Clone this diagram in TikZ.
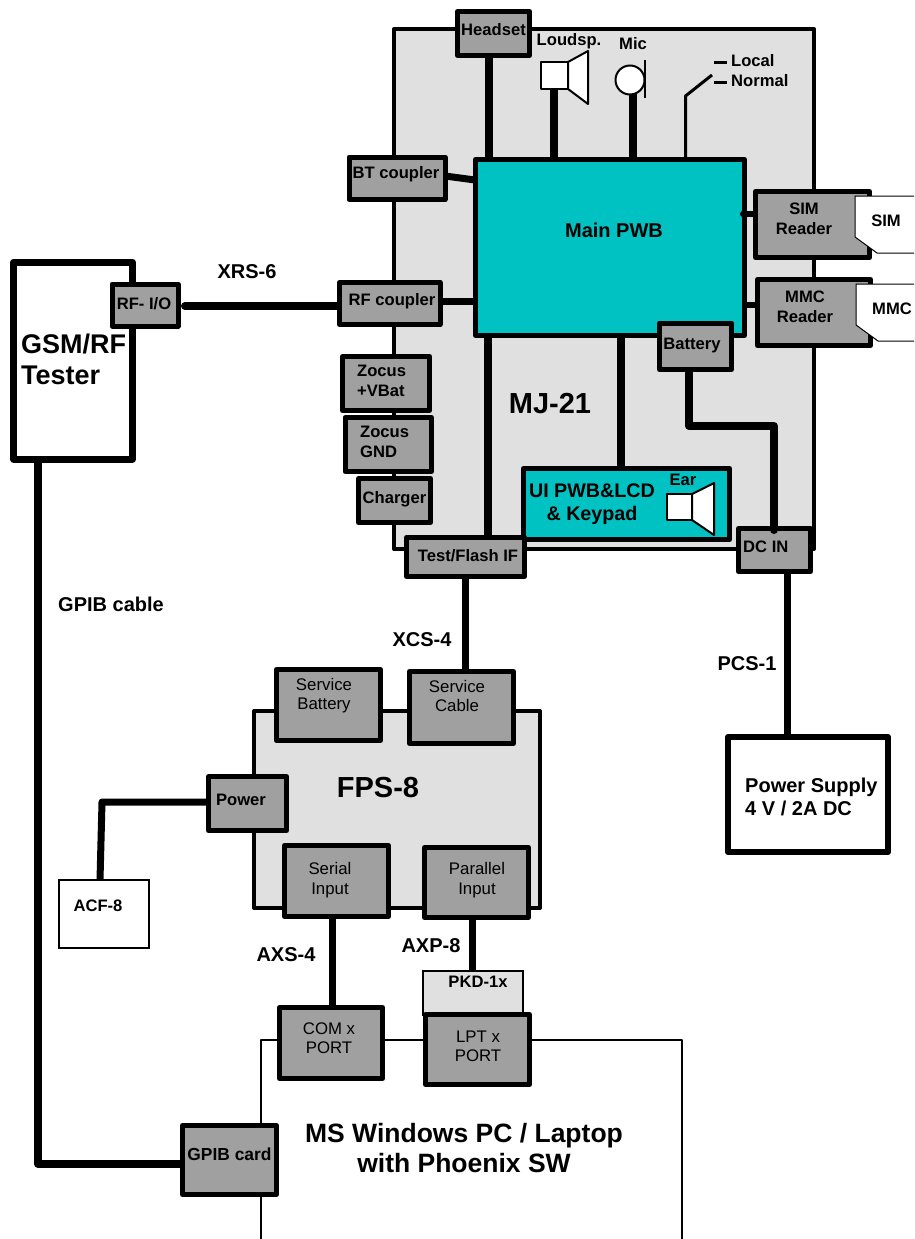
\documentclass[tikz,border=0pt]{standalone}
\usepackage{fontspec}
\setmainfont{Liberation Sans}
\definecolor{panelgray}{HTML}{E0E0E0}
\definecolor{boxgray}{HTML}{A0A0A0}
\definecolor{teal2}{HTML}{00C2C2}
\tikzset{
  bx/.style={draw=black,line width=5pt,line join=round,inner sep=0pt,fill=boxgray},
  lbl/.style={inner sep=0pt,font=\bfseries\fontsize{16.6}{20}\selectfont,align=center},
  big/.style={inner sep=0pt,font=\bfseries\fontsize{20}{20}\selectfont,align=center},
  reg/.style={inner sep=0pt,font=\fontsize{16.8}{19.5}\selectfont,align=center},
  conn/.style={line width=7pt,line join=round},
  spk/.style={draw=black,line width=2pt,fill=white,line join=round}
}
\newcommand{\Bx}[6]{\node[bx,minimum width=#3-#2,minimum height=#5-#4] (#1) at ({(#2+#3)/2},{(#4+#5)/2}) {#6};}
\begin{document}
\begin{tikzpicture}[x=1pt,y=-1pt]
\useasboundingbox (0,0) rectangle (914,1239);
% panels
\node[draw=black,line width=4pt,line join=round,fill=panelgray,minimum width=420,minimum height=520,inner sep=0pt] (mj) at (604,289) {};
\node[draw=black,line width=4pt,line join=round,fill=panelgray,minimum width=286,minimum height=197,inner sep=0pt] (fps) at (397,809.5) {};
% PC
\coordinate (pcbl) at (261,1239); \coordinate (pcbr) at (682,1239);
\coordinate (pctl) at (261,1040); \coordinate (pctr) at (682,1040);
\draw[line width=2.5pt,line join=round] (pcbl) -- (pctl) -- (pctr) -- (pcbr);
% main boards
\node[draw=black,line width=5pt,line join=round,fill=teal2,minimum width=269,minimum height=176,inner sep=0pt] (main) at (610,247.5) {};
\node[big] (maintxt) at (614,230) {Main PWB};
\node[draw=black,line width=5pt,line join=round,fill=teal2,minimum width=206,minimum height=71,inner sep=0pt] (ui) at (626.5,504) {};
\node[big,font=\bfseries\fontsize{19.7}{23}\selectfont] (uitxt) at (592,504) {UI PWB\&LCD\\\& Keypad};
% small boxes
\Bx{headset}{457.5}{529.5}{11.5}{55.5}{}
\Bx{bt}{349}{445}{157}{199.5}{}
\Bx{rfc}{339.5}{440}{282.5}{324.5}{}
\Bx{zv}{342.5}{429.5}{356.5}{410.5}{}
\Bx{zg}{345}{431.5}{417.5}{471.5}{}
\Bx{chg}{358.5}{430.5}{478.5}{522.5}{}
\Bx{test}{406.5}{524.5}{537.5}{576.5}{}
\Bx{dc}{738.5}{810.5}{528.5}{571.5}{}
\Bx{bat}{659.5}{731.5}{323}{369.5}{}
\Bx{simr}{755.5}{869.5}{191.5}{257.5}{}
\Bx{mmcr}{757.5}{870.5}{279.5}{345.5}{}
\node[lbl] (hst) at (493.5,30) {Headset};
\node[lbl] (btt) at (396,174) {BT coupler};
\node[lbl] (rft) at (392,301) {RF coupler};
\node[lbl,anchor=west] (zvt1) at (357,371) {Zocus};
\node[lbl,anchor=west] (zvt2) at (357,391) {+VBat};
\node[lbl,anchor=west] (zgt1) at (360,432) {Zocus};
\node[lbl,anchor=west] (zgt2) at (360,452) {GND};
\node[lbl] (chgt) at (394.5,499) {Charger};
\node[lbl] (testt) at (468,556) {Test/Flash IF};
\node[lbl,anchor=west] (dct) at (743,547) {DC IN};
\node[lbl] (batt) at (692,346) {Battery};
\node[lbl] (simt) at (804,218.5) {SIM\\Reader};
\node[lbl] (mmct) at (805,306.5) {MMC\\Reader};
% cards
\draw[line width=1pt,fill=white] (914,196) -- (855,196) -- (855,237) -- (877,253) -- (914,253);
\draw[line width=1pt,fill=white] (914,284) -- (856,284) -- (856,325) -- (878,341) -- (914,341);
\node[lbl] (simc) at (886,221) {SIM};
\node[lbl] (mmcc) at (892,309) {MMC};
% speakers etc
\draw[spk] (541,62) rectangle (568,89);
\draw[spk] (568,62) -- (588,51) -- (588,104) -- (568,89) -- cycle;
\draw[line width=2pt,fill=white] (630,80) circle (14.5);
\draw[line width=1.5pt] (645,60) -- (645,98);
\node[lbl] (lsp) at (569,41) {Loudsp.};
\node[lbl] (mic) at (633,44) {Mic};
\coordinate (sw0) at (685.5,160); \coordinate (sw1) at (685.5,96); \coordinate (sw2) at (712,75);
\draw[line width=3pt,line join=round] (sw0) -- (sw1) -- (sw2);
\draw[line width=3pt] (714,63) -- (727,63);
\draw[line width=3pt] (714,82) -- (727,82);
\node[lbl,anchor=west] (loc) at (731,61) {Local};
\node[lbl,anchor=west] (nor) at (731,81) {Normal};
\draw[spk] (667,494) rectangle (692,520);
\draw[spk] (692,494) -- (714,483) -- (714,535) -- (692,520) -- cycle;
\node[lbl] (ear) at (683,480) {Ear};
\node[big,font=\bfseries\fontsize{29}{30}\selectfont] (mjt) at (550,404) {MJ-21};
% connectors
\coordinate (hsa) at (489,55); \coordinate (hsb) at (489,160);
\draw[conn,line width=8pt] (hsa) -- (hsb);
\coordinate (lsa) at (554,89); \coordinate (lsb) at (554,160);
\draw[conn,line width=8pt] (lsa) -- (lsb);
\coordinate (mca) at (633,94); \coordinate (mcb) at (633,160);
\draw[conn,line width=8pt] (mca) -- (mcb);
\coordinate (bta) at (445,176); \coordinate (btb) at (475,180);
\draw[conn] (bta) -- (btb);
\coordinate (rfa) at (440,301); \coordinate (rfb) at (475,301);
\draw[conn] (rfa) -- (rfb);
\coordinate (tsa) at (488,336); \coordinate (tsb) at (488,537);
\draw[conn,line width=8pt] (tsa) -- (tsb);
\coordinate (uia) at (621,336); \coordinate (uib) at (621,468);
\draw[conn,line width=8pt] (uia) -- (uib);
\coordinate (sia) at (743,214); \coordinate (sib) at (755,214);
\draw[conn,line width=6pt,line cap=round] (sia) -- (sib);
\coordinate (mma) at (745,305); \coordinate (mmb) at (757,305);
\draw[conn,line width=6pt] (mma) -- (mmb);
\coordinate (ba1) at (689,373); \coordinate (ba2) at (689,426); \coordinate (ba3) at (774,426); \coordinate (ba4) at (774,530);
\draw[conn,line width=8pt,line cap=round] (ba1) -- (ba2) -- (ba3) -- (ba4);
% Tester
\node[draw=black,line width=7pt,line join=round,fill=white,minimum width=119,minimum height=197,inner sep=0pt] (gsm) at (73,360.5) {};
\node[big,anchor=west,align=left,font=\bfseries\fontsize{27}{31}\selectfont] (gsmt) at (21,359.5) {GSM/RF\\Tester};
\Bx{rfio}{112}{178}{284}{326}{}
\node[lbl] (rfiot) at (144,304) {RF- I/O};
\coordinate (xra) at (185,306); \coordinate (xrb) at (337,306);
\draw[conn,line width=8pt,line cap=round] (xra) -- (xrb);
\node[big] (xrs) at (247,272) {XRS-6};
% lower
\Bx{svb}{276.5}{380.5}{669.5}{740.5}{}
\Bx{svc}{409.5}{513.5}{671.5}{743.5}{}
\node[reg] (svbt) at (324,695.5) {Service\\Battery};
\node[reg] (svct) at (457,696) {Service\\Cable};
\Bx{pow}{208.5}{286.5}{776.5}{830.5}{}
\node[lbl] (powt) at (241,800) {Power};
\Bx{ser}{284.5}{388.5}{845.5}{916.5}{}
\Bx{par}{424.5}{528.5}{847.5}{917.5}{}
\node[reg] (sert) at (330,880) {Serial\\Input};
\node[reg] (part) at (477,880) {Parallel\\Input};
\node[big,font=\bfseries\fontsize{29}{30}\selectfont] (fpst) at (378,788) {FPS-8};
\node[draw=black,line width=2pt,fill=white,minimum width=90,minimum height=68,inner sep=0pt] (acf) at (104,914) {};
\node[lbl] (acft) at (98,906) {ACF-8};
\node[draw=black,line width=6pt,line join=round,fill=white,minimum width=160,minimum height=115,inner sep=0pt] (ps) at (808,794.5) {};
\node[big,anchor=west,align=left,font=\bfseries\fontsize{20}{23}\selectfont] (pst) at (745,797) {Power Supply\\4 V / 2A DC};
\node[draw=black,line width=2.5pt,fill=panelgray,minimum width=100,minimum height=44,inner sep=0pt] (pkd) at (473,993) {};
\node[lbl] (pkdt) at (478,982) {PKD-1x};
\Bx{com}{279.5}{382.5}{1007.5}{1078.5}{}
\Bx{lpt}{425.5}{529.5}{1014.5}{1084.5}{}
\node[reg] (comt) at (329,1038) {COM x\\PORT};
\node[reg] (lptt) at (478,1046.5) {LPT x\\PORT};
\Bx{gpib}{182.5}{276.5}{1125.5}{1194.5}{}
\node[lbl,font=\bfseries\fontsize{17.4}{20}\selectfont] (gpt) at (229.5,1154) {GPIB card};
\node[big,font=\bfseries\fontsize{26.5}{30}\selectfont] (pct) at (464,1148) {MS Windows PC / Laptop\\with Phoenix SW};
% lower connectors
\coordinate (xca) at (465,577); \coordinate (xcb) at (465,672);
\draw[conn] (xca) -- (xcb);
\coordinate (pca) at (787,572); \coordinate (pcb) at (787,737);
\draw[conn] (pca) -- (pcb);
\coordinate (ac1) at (208,802); \coordinate (ac2) at (102,802); \coordinate (ac3) at (100,880);
\draw[conn] (ac1) -- (ac2) -- (ac3);
\coordinate (axa) at (332,916); \coordinate (axb) at (332,1007);
\draw[conn] (axa) -- (axb);
\coordinate (apa) at (472,917); \coordinate (apb) at (472,971);
\draw[conn] (apa) -- (apb);
\coordinate (gp1) at (38,459); \coordinate (gp2) at (38,1164); \coordinate (gp3) at (183,1164);
\draw[conn,line width=8pt] (gp1) -- (gp2) -- (gp3);
\node[big] (gp) at (111,604) {GPIB cable};
\node[big] (xcs) at (422,640) {XCS-4};
\node[big] (pcs) at (747,664) {PCS-1};
\node[big] (axs) at (286,955) {AXS-4};
\node[big] (axp) at (431,946) {AXP-8};
\end{tikzpicture}
\end{document}
